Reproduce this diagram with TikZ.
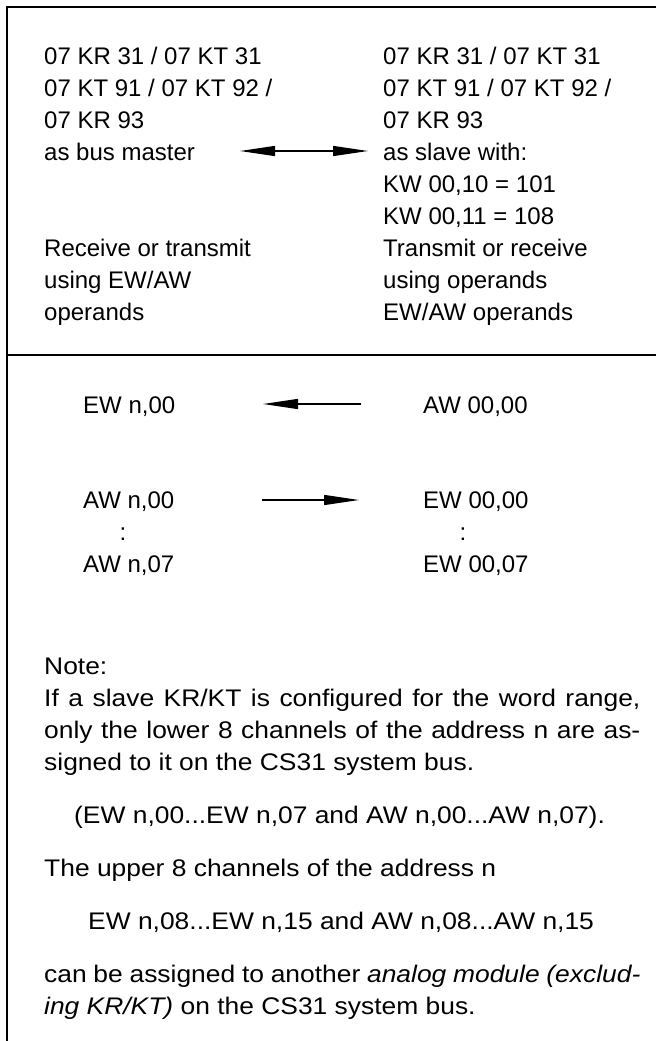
\documentclass[tikz,border=0pt]{standalone}
\usepackage{fontspec}
\usepackage{graphicx}
\setmainfont{Liberation Sans}
\usetikzlibrary{arrows.meta}
\newcommand{\notetext}[1]{\scalebox{1.1}[1]{#1}}
\newcommand{\notejust}[1]{\scalebox{1.1}[1]{\makebox[542pt][s]{#1}}}
\begin{document}
\begin{tikzpicture}[x=1pt,y=-1pt,
  txt/.style={anchor=base west, inner sep=0pt, font=\fontsize{24}{32}\selectfont},
  ctxt/.style={anchor=base, inner sep=0pt, font=\fontsize{24}{32}\selectfont},
  frame/.style={line width=1.3pt},
  arr/.style={line width=1.3pt, -{Triangle[length=35pt,width=10pt]}},
  darr/.style={line width=1.3pt, {Triangle[length=35pt,width=10pt]}-{Triangle[length=35pt,width=10pt]}},
]
\useasboundingbox (0,0) rectangle (656,1041);
% frame
\coordinate (tr) at (656,7);
\coordinate (tl) at (7,7);
\coordinate (bl) at (7,1041);
\coordinate (dl) at (7,355);
\coordinate (dr) at (656,355);
\draw[frame] (tr) -- (tl) -- (bl);
\draw[frame] (dl) -- (dr);
% top left column
\node[txt] (m1) at (44,64)  {07 KR 31 / 07 KT 31};
\node[txt] (m2) at (44,96)  {07 KT 91 / 07 KT 92 /};
\node[txt] (m3) at (44,128) {07 KR 93};
\node[txt] (m4) at (44,160) {as bus master};
\node[txt] (m5) at (44,256) {Receive or transmit};
\node[txt] (m6) at (44,288) {using EW/AW};
\node[txt] (m7) at (44,320) {operands};
% top right column
\node[txt] (s1) at (383,64)  {07 KR 31 / 07 KT 31};
\node[txt] (s2) at (383,96)  {07 KT 91 / 07 KT 92 /};
\node[txt] (s3) at (383,128) {07 KR 93};
\node[txt] (s4) at (383,160) {as slave with:};
\node[txt] (s5) at (383,192) {KW 00,10 = 101};
\node[txt] (s6) at (383,224) {KW 00,11 = 108};
\node[txt] (s7) at (383,256) {Transmit or receive};
\node[txt] (s8) at (383,288) {using operands};
\node[txt] (s9) at (383,320) {EW/AW operands};
\coordinate (da) at (240,151);
\coordinate (db) at (368,151);
\draw[darr] (da) -- (db);
% operand mapping
\node[txt] (ew0) at (83,413) {EW n,00};
\node[txt] (aw00) at (423,413) {AW 00,00};
\coordinate (a1s) at (361,404);
\coordinate (a1e) at (263,404);
\draw[arr] (a1s) -- (a1e);
\node[txt] (aw0) at (83,508) {AW n,00};
\node[txt] (ew00) at (423,508) {EW 00,00};
\coordinate (a2s) at (262,500);
\coordinate (a2e) at (359,500);
\draw[arr] (a2s) -- (a2e);
\node[ctxt] (c1) at (123,540) {:};
\node[ctxt] (c2) at (463,540) {:};
\node[txt] (aw7) at (83,572) {AW n,07};
\node[txt] (ew07) at (423,572) {EW 00,07};
% note
\node[txt] (n0) at (44,674) {\notetext{Note:}};
\node[txt] (n1) at (44,706) {\notejust{If a slave KR/KT is configured for the word range,}};
\node[txt] (n2) at (44,738) {\notejust{only the lower 8 channels of the address n are as-}};
\node[txt] (n3) at (44,770) {\notetext{signed to it on the CS31 system bus.}};
\node[txt] (n4) at (74,823) {\notetext{(EW n,00...EW n,07 and AW n,00...AW n,07).}};
\node[txt] (n5) at (44,876) {\notetext{The upper 8 channels of the address n}};
\node[txt] (n6) at (88,929) {\notetext{EW n,08...EW n,15 and AW n,08...AW n,15}};
\node[txt] (n7) at (44,982) {\notejust{can be assigned to another \textit{analog module (exclud-}}};
\node[txt] (n8) at (44,1014) {\notetext{\textit{ing KR/KT)} on the CS31 system bus.}};
\end{tikzpicture}
\end{document}
